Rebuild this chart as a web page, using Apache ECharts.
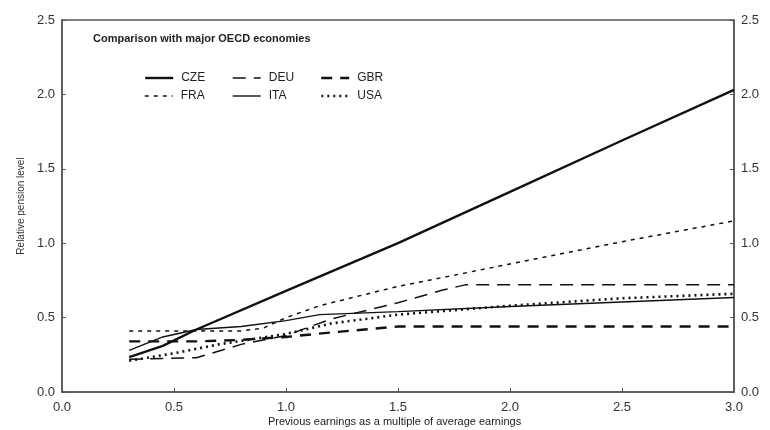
<!DOCTYPE html>
<html>
<head>
<meta charset="utf-8">
<script src="https://cdn.jsdelivr.net/npm/echarts@6/dist/echarts.min.js"></script>
<style>
  html, body { margin: 0; padding: 0; background: #fff; }
  #chart { width: 770px; height: 430px; }
</style>
</head>
<body>
<div id="chart"></div>
<script>
// earnings multiple, relative pension level
const cze = [[0.3, 0.235], [0.45, 0.31], [0.6, 0.42], [1.0, 0.68], [1.5, 1.0], [2.0, 1.345], [2.5, 1.69], [3.0, 2.03]];
const deu = [[0.3, 0.22], [0.6, 0.23], [0.8, 0.32], [1.0, 0.38], [1.2, 0.49], [1.5, 0.6], [1.7, 0.685], [1.8, 0.72], [3.0, 0.72]];
const gbr = [[0.3, 0.34], [0.6, 0.34], [0.8, 0.35], [1.0, 0.37], [1.2, 0.4], [1.5, 0.44], [3.0, 0.44]];
const fra = [[0.3, 0.41], [0.8, 0.41], [0.9, 0.43], [1.0, 0.5], [1.15, 0.58], [1.5, 0.71], [2.0, 0.86], [2.5, 1.01], [3.0, 1.15]];
const ita = [[0.3, 0.28], [0.45, 0.37], [0.6, 0.42], [0.8, 0.44], [1.0, 0.48], [1.15, 0.52], [1.5, 0.54], [2.0, 0.575], [2.5, 0.605], [3.0, 0.635]];
const usa = [[0.3, 0.21], [0.5, 0.26], [0.7, 0.32], [1.0, 0.39], [1.2, 0.46], [1.5, 0.52], [2.0, 0.58], [2.5, 0.63], [3.0, 0.66]];

// legend layout: 2 rows x 3 columns
const legendOrder = ['CZE', 'DEU', 'GBR', 'FRA', 'ITA', 'USA'];

const ink = '#111';
const axisCol = '#555';
const font = 'Liberation Sans, Arial, sans-serif';

// line widths / dash per country
const styles = {
  CZE: { width: 2.4, type: 'solid' },
  DEU: { width: 1.5, type: [13, 8] },
  GBR: { width: 2.4, type: [11, 8] },
  FRA: { width: 1.5, type: [4, 5] },
  ITA: { width: 1.4, type: 'solid' },
  USA: { width: 2.6, type: [2, 4] }
};

function line(name, data) {
  return {
    name: name,
    type: 'line',
    data: data,
    symbol: 'none',
    silent: true,
    lineStyle: { color: ink, width: styles[name].width, type: styles[name].type },
    itemStyle: { color: ink }
  };
}

// one legend per entry so the columns line up like the original
const legends = legendOrder.map(function (name, i) {
  return {
    data: [name],
    left: 139 + (i % 3) * 88,
    top: i < 3 ? 67 : 85,
    itemWidth: 28,
    itemHeight: 10,
    itemStyle: { opacity: 0 },
    lineStyle: { color: ink, width: styles[name].width, type: styles[name].type },
    textStyle: { fontFamily: font, fontSize: 12, color: '#222', padding: [0, 0, 0, 3] },
    selectedMode: false
  };
});

const chart = echarts.init(document.getElementById('chart'));

const yLabel = { fontFamily: font, fontSize: 13, color: '#333' };

chart.setOption({
  animation: false,
  grid: {
    left: 62, right: 36, top: 20, bottom: 38,
    show: true, borderColor: axisCol, borderWidth: 1.5
  },
  title: {
    text: 'Comparison with major OECD economies',
    left: 88, top: 28,
    textStyle: { fontFamily: font, fontSize: 11, fontWeight: 'bold', color: '#222' }
  },
  legend: legends,
  xAxis: {
    type: 'value', min: 0, max: 3, interval: 0.5,
    axisLine: { show: true, lineStyle: { color: axisCol, width: 1.5 } },
    axisTick: { show: true, inside: true, length: 4, lineStyle: { color: axisCol } },
    splitLine: { show: false },
    axisLabel: { fontFamily: font, fontSize: 13, color: '#333', margin: 9,
      formatter: v => v.toFixed(1) }
  },
  yAxis: [{
    type: 'value', min: 0, max: 2.5, interval: 0.5,
    name: 'Relative pension level',
    nameLocation: 'middle', nameGap: 35,
    nameTextStyle: { fontFamily: font, fontSize: 10, color: '#333' },
    axisLine: { show: true, lineStyle: { color: axisCol, width: 1.5 } },
    axisTick: { show: true, inside: true, length: 4, lineStyle: { color: axisCol } },
    splitLine: { show: false },
    axisLabel: Object.assign({ margin: 7, formatter: v => v.toFixed(1) }, yLabel)
  }, {
    type: 'value', min: 0, max: 2.5, interval: 0.5, position: 'right',
    axisLine: { show: true, lineStyle: { color: axisCol, width: 1.5 } },
    axisTick: { show: true, inside: true, length: 4, lineStyle: { color: axisCol } },
    splitLine: { show: false },
    axisLabel: Object.assign({ margin: 7, formatter: v => v.toFixed(1) }, yLabel)
  }],
  graphic: [{
    type: 'text', left: 268, top: 416,
    style: {
      text: 'Previous earnings as a multiple of average earnings',
      font: '11px ' + font, fill: '#222'
    }
  }],
  series: [
    line('CZE', cze),
    line('DEU', deu),
    line('GBR', gbr),
    line('FRA', fra),
    line('ITA', ita),
    line('USA', usa)
  ]
});
</script>
</body>
</html>
